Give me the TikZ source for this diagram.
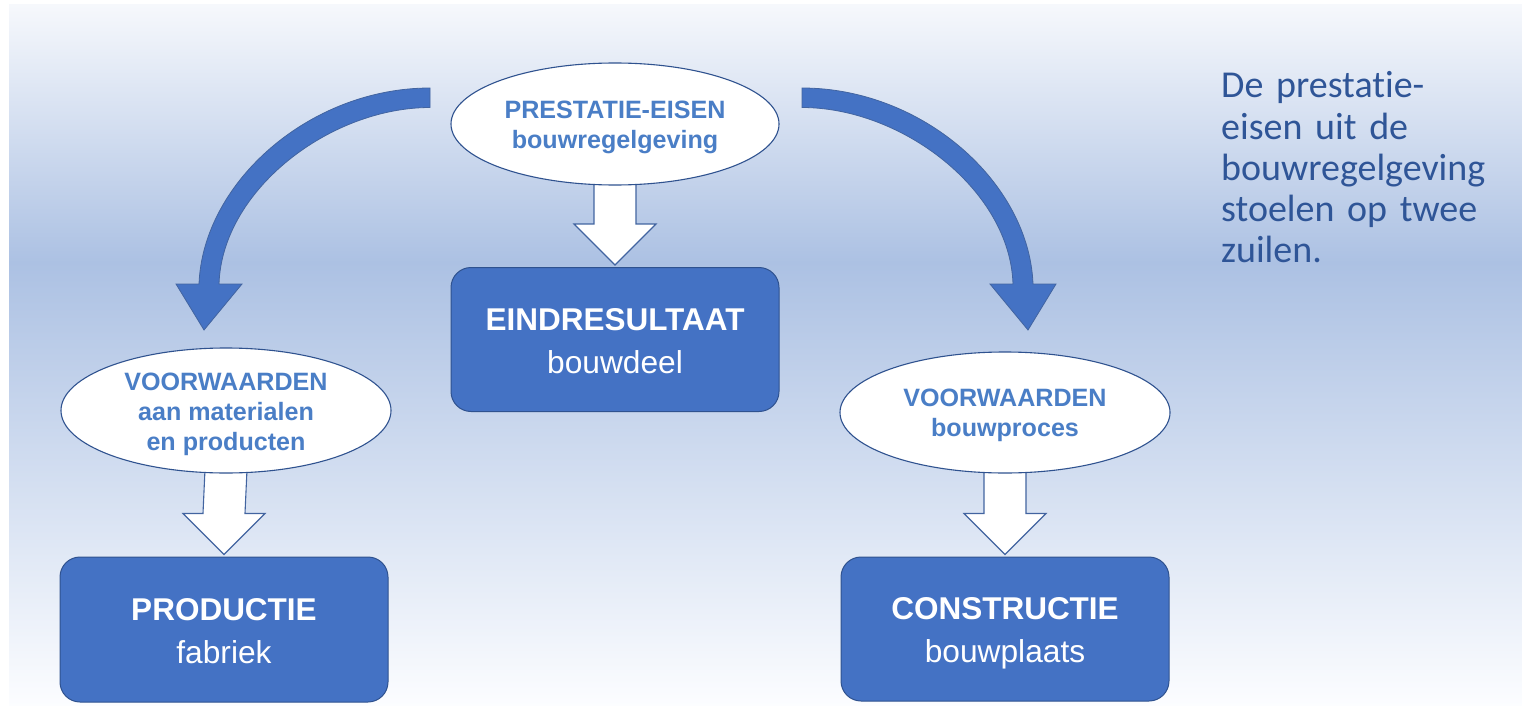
\documentclass[tikz,border=0pt]{standalone}
\usepackage{fontspec}
\setmainfont{Liberation Sans}
\newfontfamily\carlitofont[WordSpace=0.72,Ligatures=NoCommon]{Carlito}
\usetikzlibrary{calc,shapes.geometric}
\definecolor{boxblue}{RGB}{68,114,196}
\definecolor{edgeblue}{RGB}{47,82,143}
\definecolor{arrowedge}{RGB}{66,100,160}
\definecolor{elltext}{RGB}{74,126,198}
\definecolor{paratext}{RGB}{47,85,151}
\definecolor{bgtop}{RGB}{246,248,252}
\definecolor{bgmid}{RGB}{172,193,227}
\definecolor{bgbot}{RGB}{252,253,255}
\pgfdeclarelayer{back}
\pgfdeclarelayer{mid}
\pgfsetlayers{back,mid,main}
\newcommand\parafontcmd{\carlitofont\fontsize{38}{41.2}\selectfont}
\newcommand\blockarrowcmd[2]{%
  \draw[blockarrow] ($(#1.south)+(-21,-4)$) -- ($(#2.north)+(-21,-43)$) -- ($(#2.north)+(-41,-43)$)
    -- ($(#2.north)+(0,-2)$) -- ($(#2.north)+(41,-43)$) -- ($(#2.north)+(21,-43)$)
    -- ($(#1.south)+(21,-4)$) -- cycle;}
\begin{document}
\begin{tikzpicture}[x=1pt,y=-1pt,
  ell/.style={ellipse, draw=edgeblue, line width=1.1pt, fill=white, inner sep=0pt,
    minimum width=328pt, minimum height=122pt},
  box/.style={rectangle, rounded corners=20pt, draw=edgeblue, line width=1pt, fill=boxblue,
    inner sep=0pt, minimum width=328pt, minimum height=144pt},
  elltxt/.style={anchor=base, inner sep=0pt, text=elltext, font=\fontsize{25.1}{29.5}\selectfont\bfseries},
  boxtitle/.style={anchor=base, inner sep=0pt, text=white, font=\fontsize{31.5}{37}\selectfont\bfseries},
  boxsub/.style={anchor=base, inner sep=0pt, text=white, font=\fontsize{31.7}{37}\selectfont},
  blockarrow/.style={draw=arrowedge, fill=white, line width=1.1pt, line join=miter},
  curvearrow/.style={fill=boxblue, draw=arrowedge, line width=0.8pt, line join=miter},
  paratxt/.style={anchor=base west, inner sep=0pt, align=left, text width=300pt, text=paratext,
    font=\parafontcmd}
]
\useasboundingbox (0,0) rectangle (1522,706);
\begin{pgfonlayer}{back}
  \fill[top color=bgtop, bottom color=bgmid] (9,5) rectangle (1522,262.5);
  \fill[top color=bgmid, bottom color=bgbot] (9,262) rectangle (1522,706);
\end{pgfonlayer}

% nodes
\node[ell] (req) at (615,124) {};
\node[box] (eind) at (615,339.5) {};
\node[ell, minimum width=330pt, minimum height=125pt] (vmat) at (226,410.5) {};
\node[box, minimum height=145pt] (prod) at (224,629.5) {};
\node[ell, minimum width=330pt, minimum height=121pt] (vproc) at (1005,412.5) {};
\node[box] (cons) at (1005,629) {};

% texts
\node[elltxt] (req-a) at ($(req.center)+(0,-5)$) {PRESTATIE-EISEN};
\node[elltxt] (req-b) at ($(req.center)+(0,24)$) {bouwregelgeving};
\node[elltxt] (vmat-a) at ($(vmat.center)+(0,-20.5)$) {VOORWAARDEN};
\node[elltxt] (vmat-b) at ($(vmat.center)+(0,9.5)$) {aan materialen};
\node[elltxt] (vmat-c) at ($(vmat.center)+(0,39.5)$) {en producten};
\node[elltxt] (vproc-a) at ($(vproc.center)+(0,-6)$) {VOORWAARDEN};
\node[elltxt] (vproc-b) at ($(vproc.center)+(0,24)$) {bouwproces};
\node[boxtitle] (eind-a) at ($(eind.center)+(0,-9.5)$) {EINDRESULTAAT};
\node[boxsub] (eind-b) at ($(eind.center)+(0,33.5)$) {bouwdeel};
\node[boxtitle] (prod-a) at ($(prod.center)+(0,-9.5)$) {PRODUCTIE};
\node[boxsub] (prod-b) at ($(prod.center)+(0,33.5)$) {fabriek};
\node[boxtitle] (cons-a) at ($(cons.center)+(0,-9.5)$) {CONSTRUCTIE};
\node[boxsub] (cons-b) at ($(cons.center)+(0,33.5)$) {bouwplaats};

\node[paratxt] (para) at (1221,98) {De prestatie-\\eisen uit de\\bouwregelgeving\\stoelen op twee\\zuilen.};

% connectors (under the nodes)
\begin{pgfonlayer}{mid}
  \blockarrowcmd{req}{eind}
  \blockarrowcmd{vmat}{prod}
  \blockarrowcmd{vproc}{cons}
  \path[curvearrow] (430,88) .. controls (310,88) and (203,182) .. (199,284) -- (176,284) -- (204,330)
    -- (242,284) -- (219,284) .. controls (222,190) and (330,107.5) .. (430,107.5) -- cycle;
  \begin{scope}[xshift=1232pt, xscale=-1]
  \path[curvearrow] (430,88) .. controls (310,88) and (203,182) .. (199,284) -- (176,284) -- (204,330)
    -- (242,284) -- (219,284) .. controls (222,190) and (330,107.5) .. (430,107.5) -- cycle;
  \end{scope}
\end{pgfonlayer}
\end{tikzpicture}
\end{document}
